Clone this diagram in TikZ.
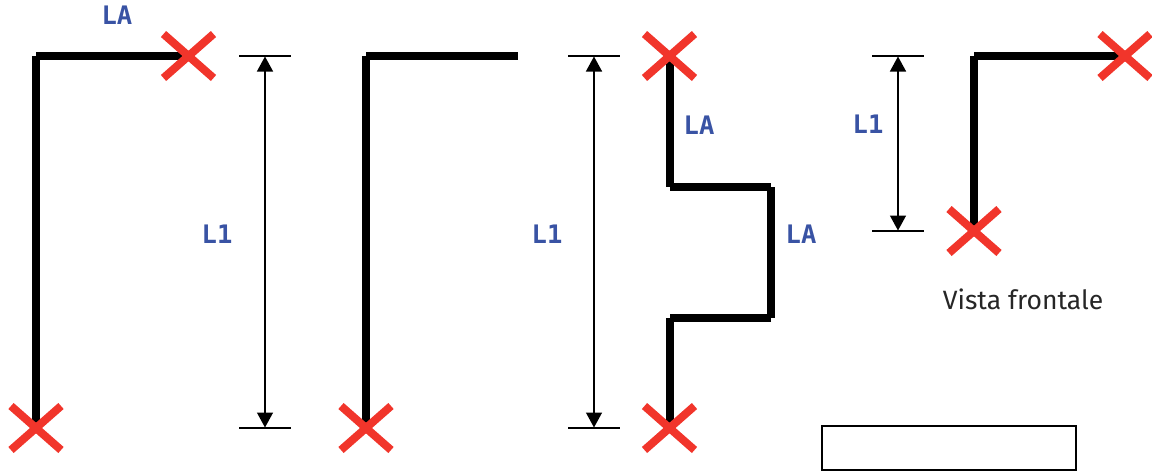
\documentclass[tikz,border=0pt]{standalone}
\usepackage{fontspec}
\setmainfont{Fira Sans}
\newfontfamily\labfont{DejaVu Sans Mono}
\usetikzlibrary{arrows.meta,calc}
\definecolor{lblue}{HTML}{3953A4}
\definecolor{xred}{HTML}{F1352B}
\definecolor{cap}{HTML}{262626}
\tikzset{
  wire/.style={line width=8pt,black,line cap=butt},
  xmark/.style={line width=8pt,xred,line cap=butt},
  tick/.style={line width=1.4pt,black},
  dim/.style={line width=1.4pt,black,{Triangle[length=15pt,width=16pt]}-{Triangle[length=15pt,width=16pt]},shorten <=0.5pt,shorten >=0.5pt},
  lab/.style={text=lblue,font=\labfont\fontsize{25.5}{25.5}\selectfont\bfseries,inner sep=0pt},
  capt/.style={text=cap,font=\fontsize{26.5}{26.5}\selectfont,inner sep=0pt}
}
\newcommand{\crossat}[1]{%
  \draw[xmark] ($(#1)+(-25,-22)$) -- ($(#1)+(25,22)$);
  \draw[xmark] ($(#1)+(-25,22)$) -- ($(#1)+(25,-22)$);
}
\begin{document}
\begin{tikzpicture}[x=1pt,y=-1pt]
\useasboundingbox (0,0) rectangle (1152,472);
% first
\coordinate (a1) at (36,428); \coordinate (a2) at (36,56); \coordinate (a3) at (188.5,56);
\draw[wire] (a1) -- (a2);
\draw[wire] (a2) -- (a3);
% second
\coordinate (b1) at (366,428); \coordinate (b2) at (366,56); \coordinate (b3) at (518,56);
\draw[wire] (b1) -- (b2);
\draw[wire] (b2) -- (b3);
% third
\coordinate (c1) at (669.5,56); \coordinate (c2) at (669.5,187); \coordinate (c3) at (771,187);
\coordinate (c4) at (771,318); \coordinate (c5) at (669.5,318); \coordinate (c6) at (669.5,428);
\draw[wire] (c1) -- (c2);
\draw[wire] (c2) -- (c3);
\draw[wire] (c3) -- (c4);
\draw[wire] (c4) -- (c5);
\draw[wire] (c5) -- (c6);
% fourth
\coordinate (d1) at (974,231); \coordinate (d2) at (974,56); \coordinate (d3) at (1125,56);
\draw[wire] (d1) -- (d2);
\draw[wire] (d2) -- (d3);
% crosses
\crossat{a1}\crossat{a3}\crossat{b1}\crossat{c1}\crossat{c6}\crossat{d1}\crossat{d3}
% dimensions
\coordinate (t1l) at (239,56); \coordinate (t1r) at (291,56);
\coordinate (t2l) at (239,428); \coordinate (t2r) at (291,428);
\coordinate (t3l) at (568,56); \coordinate (t3r) at (620,56);
\coordinate (t4l) at (568,428); \coordinate (t4r) at (620,428);
\coordinate (t5l) at (872,56); \coordinate (t5r) at (924,56);
\coordinate (t6l) at (872,231); \coordinate (t6r) at (924,231);
\draw[tick] (t1l) -- (t1r);
\draw[tick] (t2l) -- (t2r);
\draw[tick] (t3l) -- (t3r);
\draw[tick] (t4l) -- (t4r);
\draw[tick] (t5l) -- (t5r);
\draw[tick] (t6l) -- (t6r);
\draw[dim] ($(t1l)!.5!(t1r)$) -- ($(t2l)!.5!(t2r)$);
\draw[dim] ($(t3l)!.5!(t3r)$) -- ($(t4l)!.5!(t4r)$);
\draw[dim] ($(t5l)!.5!(t5r)$) -- ($(t6l)!.5!(t6r)$);
% labels
\node[lab] (la1) at (117,15) {LA};
\node[lab] (l11) at (217,234) {L1};
\node[lab] (l12) at (547,234) {L1};
\node[lab] (la2) at (699,125) {LA};
\node[lab] (la3) at (801,234) {LA};
\node[lab] (l13) at (868,124) {L1};
\node[capt] (vf) at (1023,299) {Vista frontale};
\node[draw=black,line width=2pt,outer sep=0pt,minimum width=253.5pt,minimum height=44pt,inner sep=0pt,anchor=north west] (box) at (822,426) {};
\end{tikzpicture}
\end{document}
